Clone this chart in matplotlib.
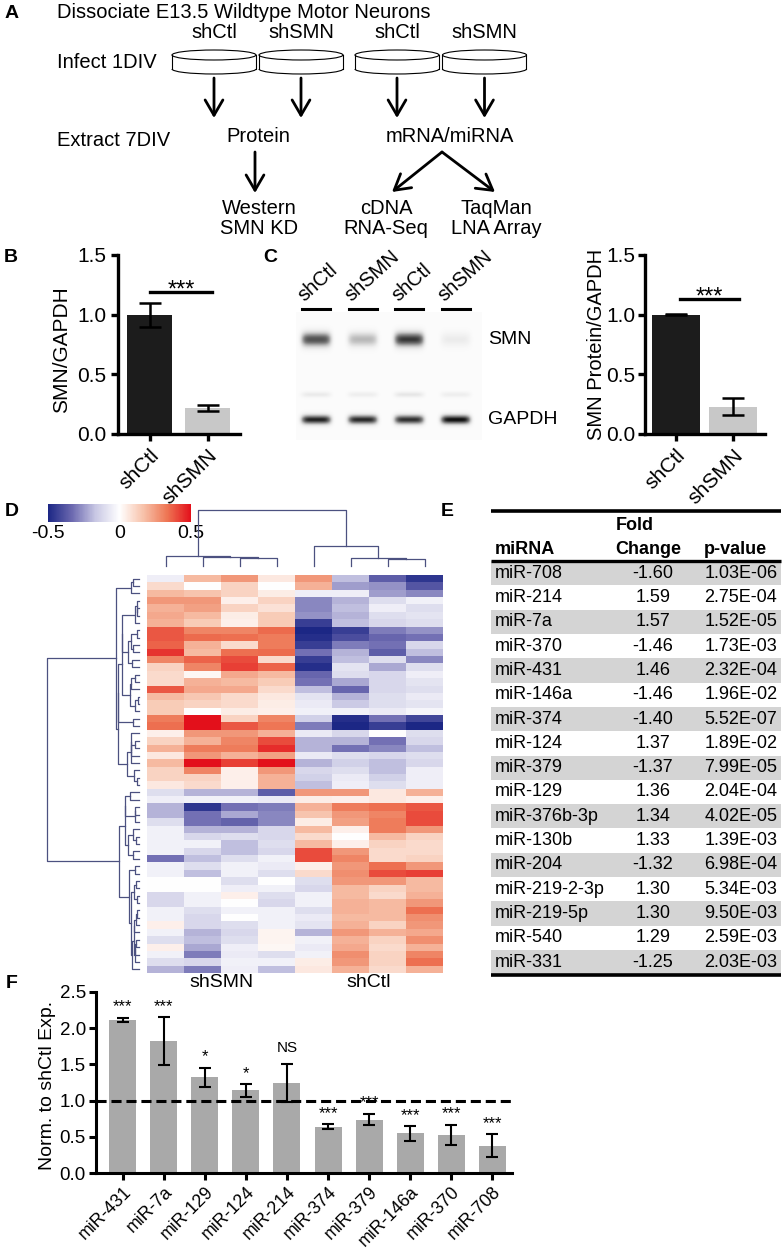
import numpy as np
import matplotlib
matplotlib.use("Agg")
import matplotlib.pyplot as plt
from matplotlib.colors import LinearSegmentedColormap
from matplotlib.patches import Ellipse, Arc, Rectangle

plt.rcParams["font.family"] = ["Liberation Sans", "DejaVu Sans"]
plt.rcParams["axes.unicode_minus"] = False

# ---------------- data ----------------
dish_labels = ["shCtl", "shSMN", "shCtl", "shSMN"]

b_groups = ["shCtl", "shSMN"]
b_means = [1.00, 0.22]
b_errs = [0.10, 0.025]

lane_labels = ["shCtl", "shSMN", "shCtl", "shSMN"]
smn_band = [0.72, 0.36, 0.80, 0.12]
gapdh_band = [0.86, 0.84, 0.82, 0.92]
faint_band = [0.13, 0.11, 0.15, 0.11]

c_groups = ["shCtl", "shSMN"]
c_means = [1.00, 0.23]
c_errs = [0.006, 0.07]

heat_groups = ["shSMN", "shCtl"]
heat_values = [
    [-0.05, 0.18, 0.26, 0.06, 0.26, -0.18, -0.36, -0.46],
    [0.10, 0.00, 0.12, 0.00, 0.20, -0.24, -0.26, -0.38],
    [0.18, 0.16, 0.12, 0.05, -0.05, -0.05, -0.24, -0.28],
    [0.26, 0.26, 0.04, 0.12, -0.28, -0.20, -0.10, -0.04],
    [0.20, 0.24, 0.12, 0.08, -0.28, -0.18, -0.05, -0.10],
    [0.22, 0.18, 0.05, 0.14, -0.26, -0.20, -0.10, -0.08],
    [0.20, 0.14, 0.04, 0.14, -0.44, -0.18, -0.12, -0.10],
    [0.38, 0.30, 0.30, 0.35, -0.50, -0.44, -0.30, -0.26],
    [0.38, 0.35, 0.34, 0.32, -0.48, -0.40, -0.34, -0.32],
    [0.36, 0.20, 0.10, 0.32, -0.44, -0.30, -0.32, -0.12],
    [0.44, 0.18, 0.34, 0.35, -0.32, -0.20, -0.36, -0.18],
    [0.30, 0.36, 0.40, 0.10, -0.44, -0.18, -0.10, -0.28],
    [0.12, 0.30, 0.42, 0.36, -0.48, -0.08, -0.22, -0.10],
    [0.10, 0.02, 0.22, 0.18, -0.34, -0.10, -0.12, -0.05],
    [0.10, 0.20, 0.18, 0.14, -0.32, -0.22, -0.12, -0.08],
    [0.38, 0.22, 0.22, 0.10, -0.18, -0.34, -0.12, -0.10],
    [0.18, 0.15, 0.10, 0.06, -0.08, -0.20, -0.10, -0.06],
    [0.14, 0.12, 0.10, 0.05, -0.06, -0.16, -0.10, -0.08],
    [0.14, 0.00, 0.05, 0.04, -0.04, -0.04, -0.06, -0.03],
    [0.32, 0.50, 0.12, 0.30, -0.14, -0.48, -0.32, -0.42],
    [0.34, 0.50, 0.38, 0.33, -0.30, -0.50, -0.44, -0.50],
    [0.04, 0.26, 0.26, 0.20, -0.06, -0.12, 0.00, -0.10],
    [0.12, 0.20, 0.30, 0.40, -0.20, -0.20, -0.32, -0.12],
    [0.20, 0.32, 0.32, 0.45, -0.20, -0.32, -0.28, -0.18],
    [0.06, 0.26, 0.20, 0.24, -0.06, -0.10, -0.12, -0.10],
    [0.18, 0.50, 0.42, 0.50, -0.20, -0.14, -0.18, -0.12],
    [0.12, 0.30, 0.04, 0.26, -0.12, -0.10, -0.18, -0.05],
    [0.12, 0.12, 0.04, 0.20, -0.14, -0.06, -0.14, -0.05],
    [0.06, 0.10, 0.04, 0.20, -0.18, -0.05, -0.10, -0.05],
    [-0.10, -0.20, -0.20, -0.36, 0.26, 0.26, 0.06, 0.20],
    [-0.05, -0.04, -0.04, -0.06, 0.05, 0.04, 0.06, 0.04],
    [-0.20, -0.46, -0.32, -0.30, 0.20, 0.32, 0.34, 0.38],
    [-0.20, -0.32, -0.22, -0.28, 0.16, 0.26, 0.30, 0.40],
    [-0.10, -0.32, -0.35, -0.28, 0.05, 0.24, 0.32, 0.40],
    [-0.04, -0.20, -0.20, -0.12, 0.18, 0.04, 0.32, 0.26],
    [-0.04, -0.12, -0.10, -0.12, 0.10, 0.00, 0.18, 0.12],
    [-0.04, -0.04, -0.18, -0.10, 0.18, 0.04, 0.12, 0.10],
    [-0.04, -0.12, -0.18, -0.12, 0.40, 0.26, 0.10, 0.10],
    [-0.32, -0.18, -0.10, -0.04, 0.40, 0.30, 0.10, 0.12],
    [-0.04, -0.10, -0.04, -0.06, 0.04, 0.26, 0.34, 0.26],
    [-0.04, -0.18, -0.04, -0.10, 0.10, 0.28, 0.40, 0.42],
    [0.00, 0.00, -0.10, 0.00, -0.10, 0.26, 0.26, 0.18],
    [0.00, 0.00, -0.05, -0.04, -0.12, 0.18, 0.12, 0.18],
    [-0.12, -0.04, 0.04, -0.10, -0.04, 0.18, 0.10, 0.20],
    [-0.12, -0.04, 0.00, -0.12, -0.04, 0.20, 0.18, 0.26],
    [-0.04, -0.10, -0.04, -0.04, -0.10, 0.20, 0.18, 0.34],
    [-0.04, -0.12, 0.00, -0.04, -0.06, 0.18, 0.18, 0.28],
    [0.04, -0.12, -0.10, -0.04, -0.08, 0.20, 0.12, 0.26],
    [-0.04, -0.20, -0.12, 0.03, -0.20, 0.26, 0.20, 0.22],
    [-0.10, -0.18, -0.10, 0.03, -0.04, 0.20, 0.12, 0.28],
    [0.04, -0.22, -0.05, 0.02, -0.06, 0.22, 0.10, 0.20],
    [-0.04, -0.30, -0.06, -0.10, -0.04, 0.28, 0.12, 0.30],
    [-0.10, -0.12, -0.04, -0.04, 0.05, 0.26, 0.12, 0.34],
    [-0.20, -0.30, -0.05, -0.18, 0.06, 0.20, 0.10, 0.20],
]

tbl_mirna = ["miR-708", "miR-214", "miR-7a", "miR-370", "miR-431", "miR-146a",
             "miR-374", "miR-124", "miR-379", "miR-129", "miR-376b-3p", "miR-130b",
             "miR-204", "miR-219-2-3p", "miR-219-5p", "miR-540", "miR-331"]
tbl_fold = [-1.60, 1.59, 1.57, -1.46, 1.46, -1.46, -1.40, 1.37, -1.37, 1.36,
            1.34, 1.33, -1.32, 1.30, 1.30, 1.29, -1.25]
tbl_pval = ["1.03E-06", "2.75E-04", "1.52E-05", "1.73E-03", "2.32E-04", "1.96E-02",
            "5.52E-07", "1.89E-02", "7.99E-05", "2.04E-04", "4.02E-05", "1.39E-03",
            "6.98E-04", "5.34E-03", "9.50E-03", "2.59E-03", "2.03E-03"]

f_mirna = ["miR-431", "miR-7a", "miR-129", "miR-124", "miR-214",
           "miR-374", "miR-379", "miR-146a", "miR-370", "miR-708"]
f_mean = [2.11, 1.82, 1.32, 1.14, 1.24, 0.64, 0.74, 0.55, 0.53, 0.38]
f_err = [0.03, 0.33, 0.135, 0.085, 0.265, 0.035, 0.08, 0.10, 0.135, 0.155]
f_sig = ["***", "***", "*", "*", "NS", "***", "***", "***", "***", "***"]

# ---------------- figure ----------------
W, H = 784, 1250
fig = plt.figure(figsize=(W / 100, H / 100), dpi=100)
fig.patch.set_facecolor("white")


def add_ax(l, t, r, b):
    return fig.add_axes([l / W, 1 - b / H, (r - l) / W, (b - t) / H])


def ylabel_at(ax, text, px, py, box, size):
    l, t, r, b = box
    ax.set_ylabel(text, fontsize=size)
    ax.yaxis.label.set_va("center")
    ax.yaxis.set_label_coords((px - l) / (r - l), (b - py) / (b - t))


def adjacent_ward(X):
    """Ward-type agglomeration restricted to neighbouring clusters (keeps display order)."""
    X = np.asarray(X, float)
    clusters = [{"idx": [i], "pos": float(i), "h": 0.0} for i in range(len(X))]
    links = []
    while len(clusters) > 1:
        best = None
        for k in range(len(clusters) - 1):
            a, c = clusters[k], clusters[k + 1]
            na, nc = len(a["idx"]), len(c["idx"])
            ca, cc = X[a["idx"]].mean(0), X[c["idx"]].mean(0)
            d = np.sqrt(2.0 * na * nc / (na + nc)) * np.linalg.norm(ca - cc)
            if best is None or d < best[0]:
                best = (d, k)
        d, k = best
        a, c = clusters[k], clusters[k + 1]
        h = max(d, a["h"], c["h"])
        links.append((a["pos"], c["pos"], a["h"], c["h"], h))
        clusters[k:k + 2] = [{"idx": a["idx"] + c["idx"], "pos": (a["pos"] + c["pos"]) / 2, "h": h}]
    return links


DCOL = "#4c5180"


def style_bar_axes(ax, lw):
    for s in ["top", "right"]:
        ax.spines[s].set_visible(False)
    for s in ["left", "bottom"]:
        ax.spines[s].set_linewidth(lw)
    ax.tick_params(width=lw, length=5, direction="out")


# ---------- Panel B ----------
boxB = (118, 255, 240, 434)
axB = add_ax(*boxB)
xb = np.arange(len(b_groups))
axB.bar(xb, b_means, width=0.776, color=["#1c1c1c", "#c8c8c8"], zorder=2)
axB.errorbar(xb, b_means, yerr=b_errs, fmt="none", ecolor="black",
             elinewidth=1.8, capsize=8, capthick=1.8, zorder=3)
axB.set_xlim(-0.543, 1.56)
axB.set_ylim(0, 1.5)
axB.set_yticks([0, 0.5, 1.0, 1.5])
axB.set_yticklabels(["0.0", "0.5", "1.0", "1.5"], fontsize=15)
axB.set_xticks(xb)
axB.set_xticklabels(b_groups, rotation=45, ha="right", rotation_mode="anchor", fontsize=15)
style_bar_axes(axB, 2.4)
ylabel_at(axB, "SMN/GAPDH", 62, 350, boxB, 15)
axB.plot([0.01, 1.08], [1.19, 1.19], color="black", lw=2.4, clip_on=False)
axB.text(0.545, 1.15, "***", ha="center", va="baseline", fontsize=17)

# ---------- Panel C blot ----------
blot_box = (296, 312, 482, 440)
axW = add_ax(*blot_box)
gx = np.linspace(-0.43, 3.56, 320)
gy = np.linspace(312, 440, 220)
XX, YY = np.meshgrid(gx, gy)
img = np.full(XX.shape, 0.03)
for i in range(len(lane_labels)):
    lane = np.exp(-((XX - i) / 0.32) ** 6)
    img += smn_band[i] * lane * np.exp(-((YY - 340) / 7.0) ** 2)
    img += faint_band[i] * lane * np.exp(-((YY - 395) / 2.8) ** 2)
    img += gapdh_band[i] * lane * np.exp(-((YY - 420) / 4.5) ** 2)
axW.imshow(np.clip(img, 0, 1), extent=(-0.43, 3.56, 440, 312), cmap="Greys",
           vmin=0, vmax=1, aspect="auto", interpolation="bilinear")
axW.set_xlim(-0.43, 3.56)
axW.set_ylim(440, 312)
axW.axis("off")
for i, lab in enumerate(lane_labels):
    axW.plot([i - 0.3, i + 0.3], [309, 309], color="black", lw=2.2, clip_on=False)
    axW.text(i - 0.24, 302, lab, rotation=42, rotation_mode="anchor", ha="left",
             va="baseline", fontsize=14.5, clip_on=False)

# ---------- Panel C bars ----------
boxC = (645, 255, 765, 434)
axC = add_ax(*boxC)
xc = np.arange(len(c_groups))
axC.bar(xc, c_means, width=0.835, color=["#1c1c1c", "#c8c8c8"], zorder=2)
axC.errorbar(xc, c_means, yerr=c_errs, fmt="none", ecolor="black",
             elinewidth=1.8, capsize=8, capthick=1.8, zorder=3)
axC.set_xlim(-0.54, 1.55)
axC.set_ylim(0, 1.5)
axC.set_yticks([0, 0.5, 1.0, 1.5])
axC.set_yticklabels(["0.0", "0.5", "1.0", "1.5"], fontsize=15)
axC.tick_params(axis="y", pad=2)
axC.set_xticks(xc)
axC.set_xticklabels(c_groups, rotation=45, ha="right", rotation_mode="anchor", fontsize=15)
style_bar_axes(axC, 2.4)
ylabel_at(axC, "SMN Protein/GAPDH", 597, 344, boxC, 14.5)
axC.plot([0.07, 1.1], [1.13, 1.13], color="black", lw=2.4, clip_on=False)
axC.text(0.585, 1.09, "***", ha="center", va="baseline", fontsize=17)

# ---------- Panel D heatmap ----------
heat = np.array(heat_values)
nrow, ncol = heat.shape
cmap = LinearSegmentedColormap.from_list(
    "smn_bwr", ["#1c2785", "#6c69b0", "#c9c8e4", "#ffffff", "#f7c2aa", "#ee7654", "#e3101b"])
axH = add_ax(147, 575, 443, 973)
im = axH.imshow(heat, cmap=cmap, vmin=-0.5, vmax=0.5, aspect="auto", interpolation="nearest")
axH.axis("off")
for g, lab in enumerate(heat_groups):
    axH.text(g * 4 + 1.5, nrow - 0.5 + 1.35, lab, ha="center", va="center",
             fontsize=14, clip_on=False)

cax = add_ax(48, 504, 191, 522)
cb = fig.colorbar(im, cax=cax, orientation="horizontal", ticks=[-0.5, 0, 0.5])
cb.outline.set_visible(False)
cb.ax.set_xticklabels(["-0.5", "0", "0.5"])
cax.tick_params(length=0, labelsize=14, pad=2)

# row dendrogram
row_links = adjacent_ward(heat)
axR = add_ax(47, 575, 139, 973)
rmax = max(l[4] for l in row_links)
for pa, pb, ha, hb, h in row_links:
    axR.plot([ha, h, h, hb], [pa, pa, pb, pb], color=DCOL, lw=0.9, clip_on=False)
axR.set_xlim(rmax, 0)
axR.set_ylim(nrow - 0.5, -0.5)
axR.axis("off")

# column dendrogram
col_links = adjacent_ward(heat.T)
axT = add_ax(147, 510, 443, 566)
cmax = max(l[4] for l in col_links)
for pa, pb, ha, hb, h in col_links:
    axT.plot([pa, pa, pb, pb], [ha, h, h, hb], color=DCOL, lw=0.9, clip_on=False)
axT.set_xlim(-0.5, ncol - 0.5)
axT.set_ylim(0, cmax)
axT.axis("off")

# ---------- Panel F ----------
boxF = (95.7, 991.7, 512, 1173.3)
axF = add_ax(*boxF)
xf = np.arange(len(f_mirna))
axF.bar(xf, f_mean, width=0.657, color="#a9a9a9", zorder=2)
axF.axhline(1.0, color="black", lw=2.2, ls=(0, (3.3, 1.6)), zorder=3)
axF.errorbar(xf, f_mean, yerr=f_err, fmt="none", ecolor="black",
             elinewidth=1.5, capsize=4, capthick=1.5, zorder=4)
for xi, m, e, s in zip(xf, f_mean, f_err, f_sig):
    off = 0.22 if s == "NS" else 0.15
    axF.text(xi, m + e + off, s, ha="center", va="center",
             fontsize=11 if s == "NS" else 12, zorder=5)
axF.set_xlim(-0.657, 9.48)
axF.set_ylim(0, 2.5)
axF.set_yticks([0, 0.5, 1.0, 1.5, 2.0, 2.5])
axF.set_yticklabels(["0.0", "0.5", "1.0", "1.5", "2.0", "2.5"], fontsize=13.5)
axF.set_xticks(xf)
axF.set_xticklabels(f_mirna, rotation=45, ha="right", rotation_mode="anchor", fontsize=12.8)
style_bar_axes(axF, 2.2)
axF.tick_params(axis="x", pad=2)
axF.tick_params(axis="y", pad=2)
ylabel_at(axF, "Norm. to shCtl Exp.", 48, 1085, boxF, 14)

# ---------- overlay: panel A, labels, table ----------
ov = fig.add_axes([0, 0, 1, 1])
ov.set_xlim(0, W)
ov.set_ylim(H, 0)
ov.axis("off")

fs_a = 14.5
ov.text(57, 12, "Dissociate E13.5 Wildtype Motor Neurons", ha="left", va="center", fontsize=fs_a)
dish_x = [214, 301, 397, 484.5]
arr = dict(arrowstyle="->,head_length=0.55,head_width=0.32", lw=2, color="black",
           mutation_scale=20, shrinkA=0, shrinkB=0)
for cx, lab in zip(dish_x, dish_labels):
    ov.text(cx, 33, lab, ha="center", va="center", fontsize=fs_a)
    ov.add_patch(Arc((cx, 69), 84, 10, theta1=0, theta2=180, lw=0.8, color="black"))
    ov.plot([cx - 42, cx - 42], [55, 69], color="black", lw=0.8)
    ov.plot([cx + 42, cx + 42], [55, 69], color="black", lw=0.8)
    ov.add_patch(Ellipse((cx, 55), 84, 10, facecolor="white", edgecolor="black", lw=0.8))
    ov.annotate("", xy=(cx, 118), xytext=(cx, 78), arrowprops=arr)
ov.text(57, 62, "Infect 1DIV", ha="left", va="center", fontsize=fs_a)
ov.text(57, 140, "Extract 7DIV", ha="left", va="center", fontsize=fs_a)
ov.text(258, 137, "Protein", ha="center", va="center", fontsize=fs_a)
ov.text(450, 137, "mRNA/miRNA", ha="center", va="center", fontsize=fs_a)
ov.annotate("", xy=(255, 193), xytext=(255, 152), arrowprops=arr)
ov.annotate("", xy=(392, 192), xytext=(442, 152), arrowprops=arr)
ov.annotate("", xy=(495, 192), xytext=(442, 152), arrowprops=arr)
for cx, l1, l2 in [(259, "Western", "SMN KD"), (386, "cDNA", "RNA-Seq"), (496, "TaqMan", "LNA Array")]:
    ov.text(cx, 208, l1, ha="center", va="center", fontsize=fs_a)
    ov.text(cx, 229, l2, ha="center", va="center", fontsize=fs_a)

# blot band labels
ov.text(488, 340, "SMN", ha="left", va="center", fontsize=14)
ov.text(488, 420, "GAPDH", ha="left", va="center", fontsize=14)

# panel letters
for lx, ly, letter in [(12, 14, "A"), (11, 257, "B"), (270, 258, "C"),
                       (12, 512, "D"), (447, 512, "E"), (12, 983, "F")]:
    ov.text(lx, ly, letter, ha="center", va="center", fontsize=14, fontweight="bold")

# ---------- Panel E table ----------
tx0, tx1 = 491, 781
row0, rowh = 573.3, 24.3
ov.plot([tx0, tx1], [511, 511], color="black", lw=2.6, solid_capstyle="butt")
ov.text(635, 526, "Fold", ha="center", va="center", fontsize=13, fontweight="bold")
ov.text(495, 550, "miRNA", ha="left", va="center", fontsize=13, fontweight="bold")
ov.text(648, 550, "Change", ha="center", va="center", fontsize=13, fontweight="bold")
ov.text(704, 550, "p-value", ha="left", va="center", fontsize=13, fontweight="bold")
ov.plot([tx0, tx1], [560.7, 560.7], color="black", lw=2.4, solid_capstyle="butt")
for i, (name, fold, pv) in enumerate(zip(tbl_mirna, tbl_fold, tbl_pval)):
    yc = row0 + rowh * i
    if i % 2 == 0:
        ov.add_patch(Rectangle((tx0, yc - rowh / 2), tx1 - tx0, rowh,
                               facecolor="#d4d4d4", edgecolor="none", zorder=0))
    ov.text(495, yc, name, ha="left", va="center", fontsize=13)
    ov.text(653, yc, f"{fold:.2f}", ha="center", va="center", fontsize=13)
    ov.text(741, yc, pv, ha="center", va="center", fontsize=13)
ybot = row0 + rowh * (len(tbl_mirna) - 1) + rowh / 2 + 1
ov.plot([tx0, tx1], [ybot, ybot], color="black", lw=2.6, solid_capstyle="butt")

fig.savefig("out.png", dpi=100)
